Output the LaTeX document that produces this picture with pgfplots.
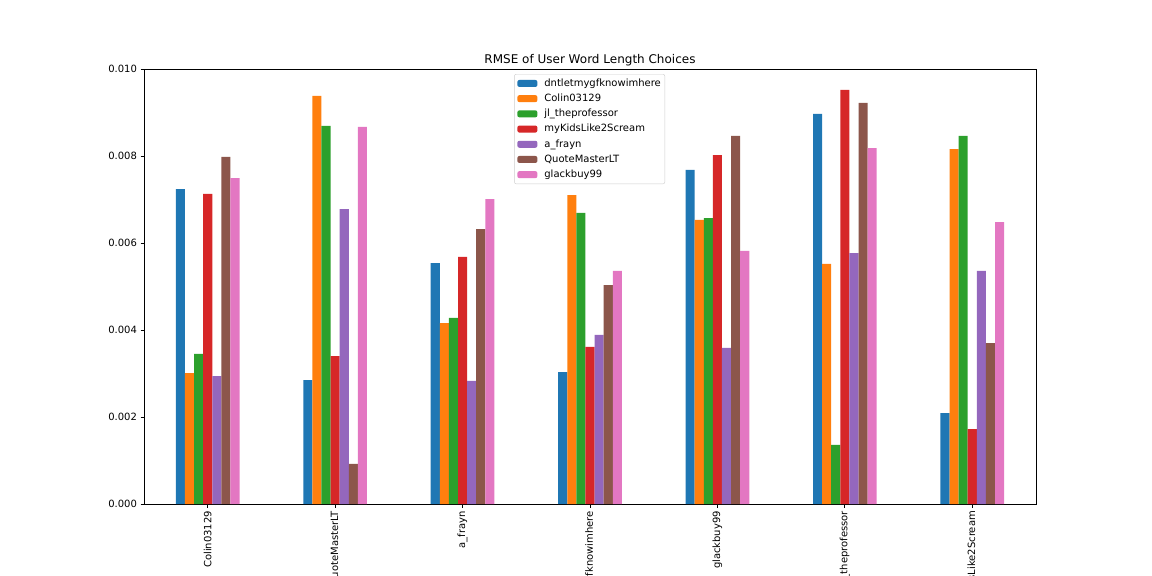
\documentclass[border=0pt]{standalone}
\usepackage{pgfplots}
\pgfplotsset{compat=1.18}
\usepackage{fontspec}
\setmainfont{DejaVu Sans}
\definecolor{c1}{HTML}{1F77B4}
\definecolor{c2}{HTML}{FF7F0E}
\definecolor{c3}{HTML}{2CA02C}
\definecolor{c4}{HTML}{D62728}
\definecolor{c5}{HTML}{9467BD}
\definecolor{c6}{HTML}{8C564B}
\definecolor{c7}{HTML}{E377C2}
\begin{document}
\begin{tikzpicture}
\begin{axis}[
  at={(144pt,72pt)}, anchor=south west,
  scale only axis, width=892pt, height=435pt,
  ybar=0pt, bar width=9.1pt,
  legend image code/.code={\fill[#1] (0pt,-3.5pt) rectangle (20pt,3.5pt);},
  xmin=-0.5, xmax=6.5, ymin=0, ymax=0.010,
  xtick={0,1,2,3,4,5,6},
  xticklabels={Colin03129,QuoteMasterLT,a\_frayn,dntletmygfknowimhere,glackbuy99,jl\_theprofessor,myKidsLike2Scream},
  xticklabel style={rotate=90, anchor=east},
  ytick={0,0.002,0.004,0.006,0.008,0.010},
  scaled y ticks=false,
  yticklabel style={/pgf/number format/.cd, fixed, fixed zerofill, precision=3},
  /pgf/number format/assume math mode=true,
  tick pos=left, tick align=outside, major tick length=3.5pt,
  every tick/.style={black, line width=0.8pt},
  axis line style={line width=0.8pt},
  tick label style={font=\fontsize{10}{12}\selectfont},
  title={RMSE of User Word Length Choices},
  title style={font=\fontsize{12}{14.4}\selectfont, yshift=-7pt},
  legend cell align=left,
  legend style={at={(0.415,0.9885)}, anchor=north west, draw=black!20, rounded corners=2pt,
    font=\fontsize{10}{12}\selectfont, inner sep=3pt, row sep=2.7pt,
    nodes={inner sep=1pt, text height=8pt, text depth=2.5pt},
    /tikz/every odd column/.append style={column sep=6pt}},
]
\addplot[fill=c1, draw=none] coordinates {(0,0.00724) (1,0.00285) (2,0.00554) (3,0.00303) (4,0.00768) (5,0.00897) (6,0.00209)};
\addplot[fill=c2, draw=none] coordinates {(0,0.00301) (1,0.00938) (2,0.00416) (3,0.00710) (4,0.00653) (5,0.00552) (6,0.00816)};
\addplot[fill=c3, draw=none] coordinates {(0,0.00345) (1,0.00869) (2,0.00428) (3,0.00669) (4,0.00657) (5,0.00136) (6,0.00846)};
\addplot[fill=c4, draw=none] coordinates {(0,0.00713) (1,0.00340) (2,0.00568) (3,0.00361) (4,0.00802) (5,0.00952) (6,0.00172)};
\addplot[fill=c5, draw=none] coordinates {(0,0.00294) (1,0.00678) (2,0.00283) (3,0.00389) (4,0.00359) (5,0.00577) (6,0.00536)};
\addplot[fill=c6, draw=none] coordinates {(0,0.00798) (1,0.00092) (2,0.00632) (3,0.00503) (4,0.00846) (5,0.00922) (6,0.00370)};
\addplot[fill=c7, draw=none] coordinates {(0,0.00749) (1,0.00867) (2,0.00701) (3,0.00536) (4,0.00582) (5,0.00818) (6,0.00648)};
\legend{dntletmygfknowimhere,Colin03129,jl\_theprofessor,myKidsLike2Scream,a\_frayn,QuoteMasterLT,glackbuy99}
\end{axis}
\pgfresetboundingbox
\useasboundingbox (0,0) rectangle (1152pt,576pt);
\end{tikzpicture}
\end{document}
